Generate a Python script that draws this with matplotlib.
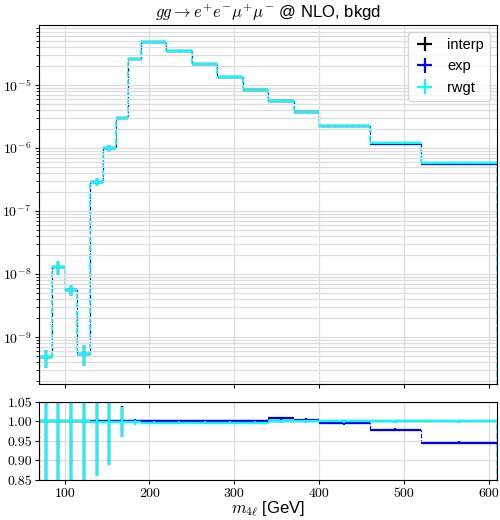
import numpy as np
import matplotlib
matplotlib.use('Agg')
import matplotlib.pyplot as plt
from matplotlib.ticker import FixedLocator, FuncFormatter, LogLocator

plt.rcParams['font.family'] = ['Liberation Sans', 'DejaVu Sans']
plt.rcParams['mathtext.fontset'] = 'cm'

## bin edges in m_4l [GeV]
edges = [70, 85, 100, 115, 130, 145, 160, 175, 190, 220, 250, 280,
         310, 340, 370, 400, 460, 520, 610]

## interp prediction per bin
interp = [4.84e-10, 1.29e-8, 5.57e-9, 5.45e-10, 2.94e-7, 9.9e-7, 3.03e-6,
          2.55e-5, 4.85e-5, 3.46e-5, 2.18e-5, 1.34e-5, 8.43e-6, 5.52e-6,
          3.69e-6, 2.24e-6, 1.19e-6, 5.87e-7]

## relative stat. uncertainty per bin
rel_err = [0.32, 0.26, 0.19, 0.36, 0.14, 0.111, 0.039, 0.006, 0.004, 0.004,
           0.004, 0.004, 0.004, 0.004, 0.004, 0.004, 0.004, 0.004]

## ratios to interp
ratio_exp = [1.0, 1.0, 1.0, 1.0, 1.0, 1.0, 1.0, 1.0, 1.0, 1.0, 1.0, 1.0,
             1.0, 1.0085, 1.005, 0.995, 0.979, 0.946]
ratio_rwgt = [1.0, 1.0, 1.0, 1.0, 0.999, 0.999, 0.998, 0.998, 0.997, 0.997,
              0.997, 0.997, 0.997, 1.0, 1.0, 1.0, 1.0, 1.0]

names = ['interp', 'exp', 'rwgt']
colors = ['black', 'blue', 'cyan']
step_lw = [0.8, 0.8, 1.2]

edges = np.array(edges, dtype=float)
centers = 0.5 * (edges[1:] + edges[:-1])
halfw = 0.5 * (edges[1:] - edges[:-1])
interp = np.array(interp)
rel_err = np.array(rel_err)
ratios = [np.ones_like(interp), np.array(ratio_exp), np.array(ratio_rwgt)]

fig = plt.figure(figsize=(5, 5.2), dpi=100)
ax = fig.add_axes([0.0786, 0.261, 0.9154, 0.691])
rax = fig.add_axes([0.0786, 0.077, 0.9154, 0.150], sharex=ax)

for name, color, r, slw in zip(names, colors, ratios, step_lw):
    vals = interp * r
    ax.errorbar(centers, vals, xerr=halfw, yerr=vals * rel_err, fmt='none',
                ecolor=color, elinewidth=1.6, label=name)
    ax.stairs(vals, edges, color=color, ls='--', lw=slw)
    rax.errorbar(centers, r, xerr=halfw, yerr=r * rel_err, fmt='none',
                 ecolor=color, elinewidth=1.6)
    rax.stairs(r, edges, color=color, ls='--', lw=slw)

ax.set_yscale('log')
ax.set_ylim(1.8e-10, 8.9e-5)
ax.set_xlim(70, 610)
ax.yaxis.set_minor_locator(LogLocator(base=10, subs=np.arange(2, 10)))
ax.yaxis.set_major_formatter(FuncFormatter(lambda v, p: r'$10^{%d}$' % round(np.log10(v))))
ax.yaxis.set_minor_formatter(FuncFormatter(lambda v, p: ''))
ax.grid(axis='x', which='major', color='#dddddd', lw=0.9)
ax.grid(axis='y', which='both', color='#dddddd', lw=0.9)
ax.tick_params(axis='x', labelbottom=False)
ax.tick_params(labelsize=10, length=3, pad=3)
ax.tick_params(which='minor', length=2)
ax.set_title(r'$gg \to e^{+}e^{-}\mu^{+}\mu^{-}$ @ NLO, bkgd', fontsize=12, pad=5)
ax.legend(loc='upper right', fontsize=10.5, handlelength=1.5)

rax.set_ylim(0.85, 1.05)
rax.yaxis.set_major_locator(FixedLocator([0.85, 0.90, 0.95, 1.00, 1.05]))
rax.yaxis.set_major_formatter(FuncFormatter(lambda v, p: '%.2f' % v))
rax.xaxis.set_major_locator(FixedLocator([100, 200, 300, 400, 500, 600]))
rax.xaxis.set_major_formatter(FuncFormatter(lambda v, p: '%d' % v))
rax.grid(True, color='#dddddd', lw=0.9)
rax.tick_params(labelsize=10, length=3, pad=3)
rax.tick_params(axis='y', labelsize=10, pad=2)
for lab in rax.get_xticklabels() + rax.get_yticklabels():
    lab.set_fontfamily('cmr10')
rax.set_xlabel(r'$m_{4\ell}$ [GeV]', fontsize=12)
rax.xaxis.set_label_coords(0.5, -0.25)

fig.savefig('out.png', dpi=100)
